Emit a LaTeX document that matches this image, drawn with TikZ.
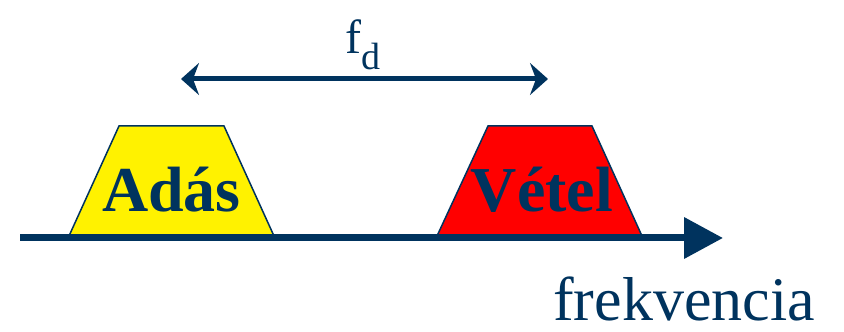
\documentclass[tikz,border=0pt]{standalone}
\usepackage{fontspec}
\setmainfont{Liberation Serif}
\usetikzlibrary{arrows.meta}
\definecolor{sotetkek}{RGB}{0,51,94}

\begin{document}
\begin{tikzpicture}[x=1pt, y=1pt]
        \useasboundingbox (0,0) rectangle (844,332);

        % --- Sávok (trapézok) ---
        \draw[line width=1.5pt, draw=sotetkek, fill=yellow]
            (69,96) -- (119,206) -- (224,206) -- (274,96) -- cycle;
        \draw[line width=1.5pt, draw=sotetkek, fill=red]
            (437,96) -- (488,206) -- (592,206) -- (642,96) -- cycle;
        \node[anchor=base, inner sep=0pt, text=sotetkek, font=\fontsize{64}{64}\selectfont\bfseries] (adas) at (171.5,120) {Adás};
        \node[anchor=base, inner sep=0pt, text=sotetkek, font=\fontsize{64}{64}\selectfont\bfseries] (vetel) at (542,120) {Vétel};

        % --- Frekvencia tengely ---
        \coordinate (ax0) at (20,94);
        \coordinate (ax1) at (723,94);
        \draw[line width=7pt, sotetkek, -{Triangle[length=39pt, width=40pt]}] (ax0) -- (ax1);
        \node[anchor=base west, inner sep=0pt, text=sotetkek, font=\fontsize{62}{62}\selectfont] (frek) at (553,11) {frekvencia};

        % --- Duplex távolság f_d ---
        \coordinate (fd0) at (181,253);
        \coordinate (fd1) at (548,253);
        \draw[line width=5pt, sotetkek, {Stealth[length=18pt, width=32pt, inset=6pt]}-{Stealth[length=18pt, width=32pt, inset=6pt]}] (fd0) -- (fd1);
        \node[anchor=base west, inner sep=0pt, text=sotetkek] (fd) at (345,278)
            {\fontsize{48}{48}\selectfont f\raisebox{-16pt}{\fontsize{38}{38}\selectfont d}};
\end{tikzpicture}
\end{document}
